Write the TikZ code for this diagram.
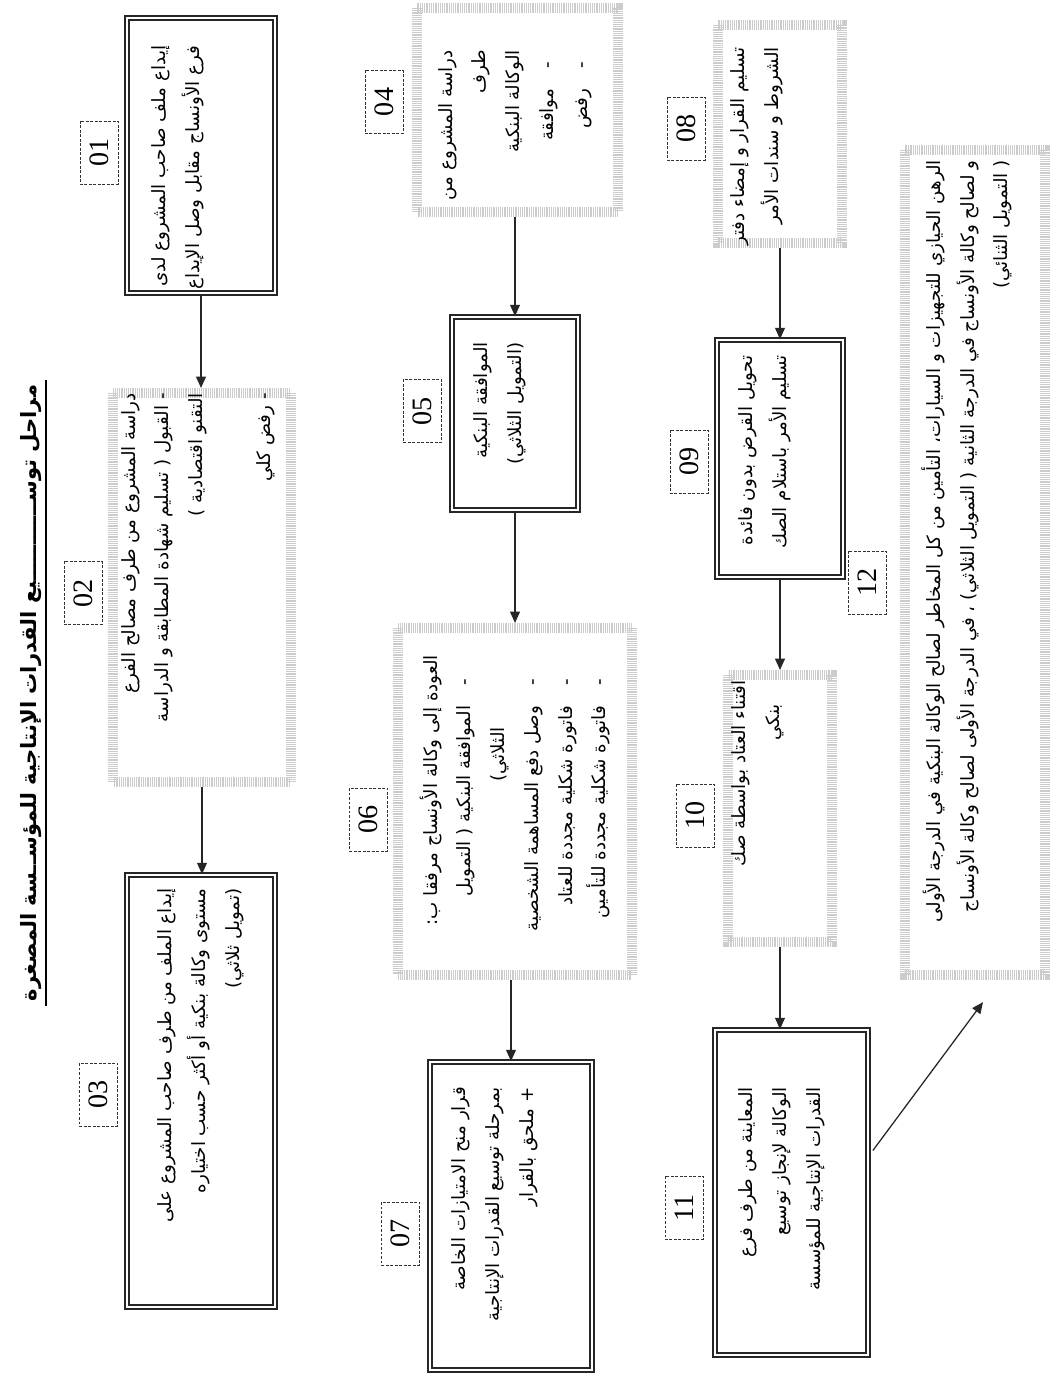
\documentclass[tikz,border=0pt]{standalone}
\usepackage{fontspec}
\setmainfont{Liberation Serif}
\newfontfamily\arabicfont[Script=Arabic]{DejaVu Sans}
\TeXXeTstate=1
\usetikzlibrary{arrows.meta, calc}
\newcommand{\ar}[1]{\beginR #1\endR}
\tikzstyle{mainbox} = [rectangle, rotate=90, draw=black!85, line width=1.2pt, double=white, double distance=1.3pt, fill=white]
\tikzstyle{dotbox} = [rectangle, rotate=90, draw=gray!40, line width=0.25cm, dash pattern=on 0.7pt off 0.6pt]
\tikzstyle{numlabel} = [rectangle, rotate=90, draw=black!80, dash pattern=on 2pt off 1.2pt, minimum width=1.575cm, minimum height=0.95cm, inner sep=0pt, font=\fontsize{20}{24}\selectfont]
\tikzstyle{boxtext} = [rotate=90, align=right, anchor=east, inner sep=0pt, font=\arabicfont\fontsize{13}{24}\selectfont]
\tikzstyle{flowarrow} = [line width=0.9pt, draw=black!85, -{Triangle[length=8pt, width=7pt]}]
\begin{document}
\begin{tikzpicture}[x=0.025cm, y=-0.025cm]
    \fill [white] (0,0) rectangle (1057,1373);
    \useasboundingbox (0,0) rectangle (1057,1373);

    % Title
    \node (title) [rotate=90, inner sep=3pt, font=\arabicfont\bfseries\fontsize{15}{18}\selectfont] at (31,693) {\ar{مراحل توســـــــــــيع القدرات الإنتاجية للمؤســسة المصغرة}};
    \draw [line width=1.2pt] (title.south west) -- (title.south east);

    % Boxes
    \node (b01) [mainbox, minimum width=6.875cm, minimum height=3.7cm] at (201,155.5) {};
    \node (b02) [dotbox, minimum width=9.725cm, minimum height=4.425cm] at ($(b01)+(1,432)$) {};
    \node (b03) [mainbox, minimum width=10.8cm, minimum height=3.7cm] at ($(b02)+(-1,503.5)$) {};
    \node (b04) [dotbox, minimum width=5.1cm, minimum height=5.025cm] at (517.5,110) {};
    \node (b05) [mainbox, minimum width=4.825cm, minimum height=3.15cm] at ($(b04)+(-2.5,303.5)$) {};
    \node (b06) [dotbox, minimum width=8.675cm, minimum height=5.85cm] at ($(b05)+(0,388)$) {};
    \node (b07) [mainbox, minimum width=7.7cm, minimum height=4.05cm] at ($(b06)+(-4,414.5)$) {};
    \node (b08) [dotbox, minimum width=5.45cm, minimum height=3.1cm] at (780,134) {};
    \node (b09) [mainbox, minimum width=5.925cm, minimum height=3.15cm] at ($(b08)+(0,324.5)$) {};
    \node (b10) [dotbox, minimum width=6.675cm, minimum height=2.6cm] at ($(b09)+(0,350)$) {};
    \node (b11) [mainbox, minimum width=8.125cm, minimum height=3.825cm] at ($(b10)+(11.5,384)$) {};
    \node (b12) [dotbox, minimum width=20.625cm, minimum height=3.5cm] at (975,562.5) {};

    % Numbers
    \node (n01) [numlabel] at ($(b01)+(-102,-3)$) {01};
    \node (n02) [numlabel] at ($(b02)+(-119,5.5)$) {02};
    \node (n03) [numlabel] at ($(b03)+(-102.5,3.5)$) {03};
    \node (n04) [numlabel] at ($(b04)+(-133.5,-8)$) {04};
    \node (n05) [numlabel] at ($(b05)+(-92.5,-2.5)$) {05};
    \node (n06) [numlabel] at ($(b06)+(-146.5,18)$) {06};
    \node (n07) [numlabel] at ($(b07)+(-110.5,17.5)$) {07};
    \node (n08) [numlabel] at ($(b08)+(-94,-5.5)$) {08};
    \node (n09) [numlabel] at ($(b09)+(-91,3)$) {09};
    \node (n10) [numlabel] at ($(b10)+(-85,7)$) {10};
    \node (n11) [numlabel] at ($(b11)+(-107.5,15)$) {11};
    \node (n12) [numlabel] at ($(b12)+(-108,20)$) {12};

    % Texts
    \node (t01) [boxtext] at ($(b01.center)+(-23,-110)$) {\ar{إيداع ملف صاحب المشروع لدى}\\ \ar{فرع الأونساج مقابل وصل الإيداع}};
    \node (t02) [boxtext] at ($(b02.center)+(-4,-194.5)$) {\ar{دراسة المشروع من طرف مصالح الفرع}\\ \ar{- القبول ( تسليم شهادة المطابقة و الدراسة}\\ \ar{التقنو اقتصادية )}\\ \mbox{}\\ \ar{- رفض كلي}};
    \node (t03) [boxtext] at ($(b03.center)+(0,-203)$) {\ar{إيداع الملف من طرف صاحب المشروع على}\\ \ar{مستوى وكالة بنكية أو أكثر حسب اختياره}\\ \ar{(تمويل ثلاثي)}};
    \node (t04) [boxtext] at ($(b04.center)+(-2.5,-60)$) {\ar{دراسة المشروع من}\\ \ar{طرف}\\ \ar{الوكالة البنكية}\\ \ar{\hspace{0.3cm}-\hspace{0.5cm}موافقة}\\ \ar{\hspace{0.3cm}-\hspace{0.5cm}رفض}};
    \node (t05) [boxtext] at ($(b05.center)+(-15,-71.5)$) {\ar{الموافقة البنكية}\\ \ar{(التمويل الثلاثي)}};
    \node (t06) [boxtext] at ($(b06.center)+(0,-146.5)$) {\ar{العودة إلى وكالة الأونساج مرفقا ب:}\\ \ar{\hspace{0.6cm}-\hspace{0.5cm}الموافقة البنكية ( التمويل}\\ \ar{\hspace{1.8cm}الثلاثي)}\\ \ar{\hspace{0.6cm}-\hspace{0.5cm}وصل دفع المساهمة الشخصية}\\ \ar{\hspace{0.6cm}-\hspace{0.5cm}فاتورة شكلية مجددة للعتاد}\\ \ar{\hspace{0.6cm}-\hspace{0.5cm}فاتورة شكلية مجددة للتأمين}};
    \node (t07) [boxtext] at ($(b07.center)+(-16,-129)$) {\ar{قرار منح الامتيازات الخاصة}\\ \ar{بمرحلة توسيع القدرات الإنتاجية}\\ \ar{+ ملحق بالقرار}};
    \node (t08) [boxtext] at ($(b08.center)+(-23,-87)$) {\ar{تسليم القرار و إمضاء دفتر}\\ \ar{الشروط و سندات الأمر}};
    \node (t09) [boxtext] at ($(b09.center)+(-15,-103.5)$) {\ar{تحويل القرض بدون فائدة}\\ \ar{تسليم الأمر باستلام الصك}};
    \node (t10) [boxtext] at ($(b10.center)+(-22,-128.5)$) {\ar{اقتناء العتاد بواسطة صك}\\ \ar{\hspace{0.6cm}بنكي}};
    \node (t11) [boxtext] at ($(b11.center)+(-9.5,-105.5)$) {\ar{المعاينة من طرف فرع}\\ \ar{الوكالة لإنجاز توسيع}\\ \ar{القدرات الإنتاجية للمؤسسة}};
    \node (t12) [boxtext] at ($(b12.center)+(-8,-402.5)$) {\ar{الرهن الحيازي للتجهيزات و السيارات، التأمين من كل المخاطر لصالح الوكالة البنكية في الدرجة الأولى}\\ \ar{و لصالح وكالة الأونساج في الدرجة الثانية ( التمويل الثلاثي) ، في الدرجة الأولى لصالح وكالة الأونساج}\\ \ar{( التمويل الثنائي)}};

    % Arrows
    \draw [flowarrow] (b01.west) -- (b01.west |- b02.east);
    \draw [flowarrow] (b02.west) -- (b02.west |- b03.east);
    \draw [flowarrow] (b05.east |- b04.west) -- (b05.east);
    \draw [flowarrow] (b05.west) -- (b05.west |- b06.east);
    \draw [flowarrow] (b07.east |- b06.west) -- (b07.east);
    \draw [flowarrow] (b08.west) -- (b08.west |- b09.east);
    \draw [flowarrow] (b09.west) -- (b09.west |- b10.east);
    \draw [flowarrow] (b10.west) -- (b10.west |- b11.east);
    \draw [flowarrow] ($(b11.south)+(4,-42)$) -- ($(b12.west)+(8,22)$);
\end{tikzpicture}
\end{document}
